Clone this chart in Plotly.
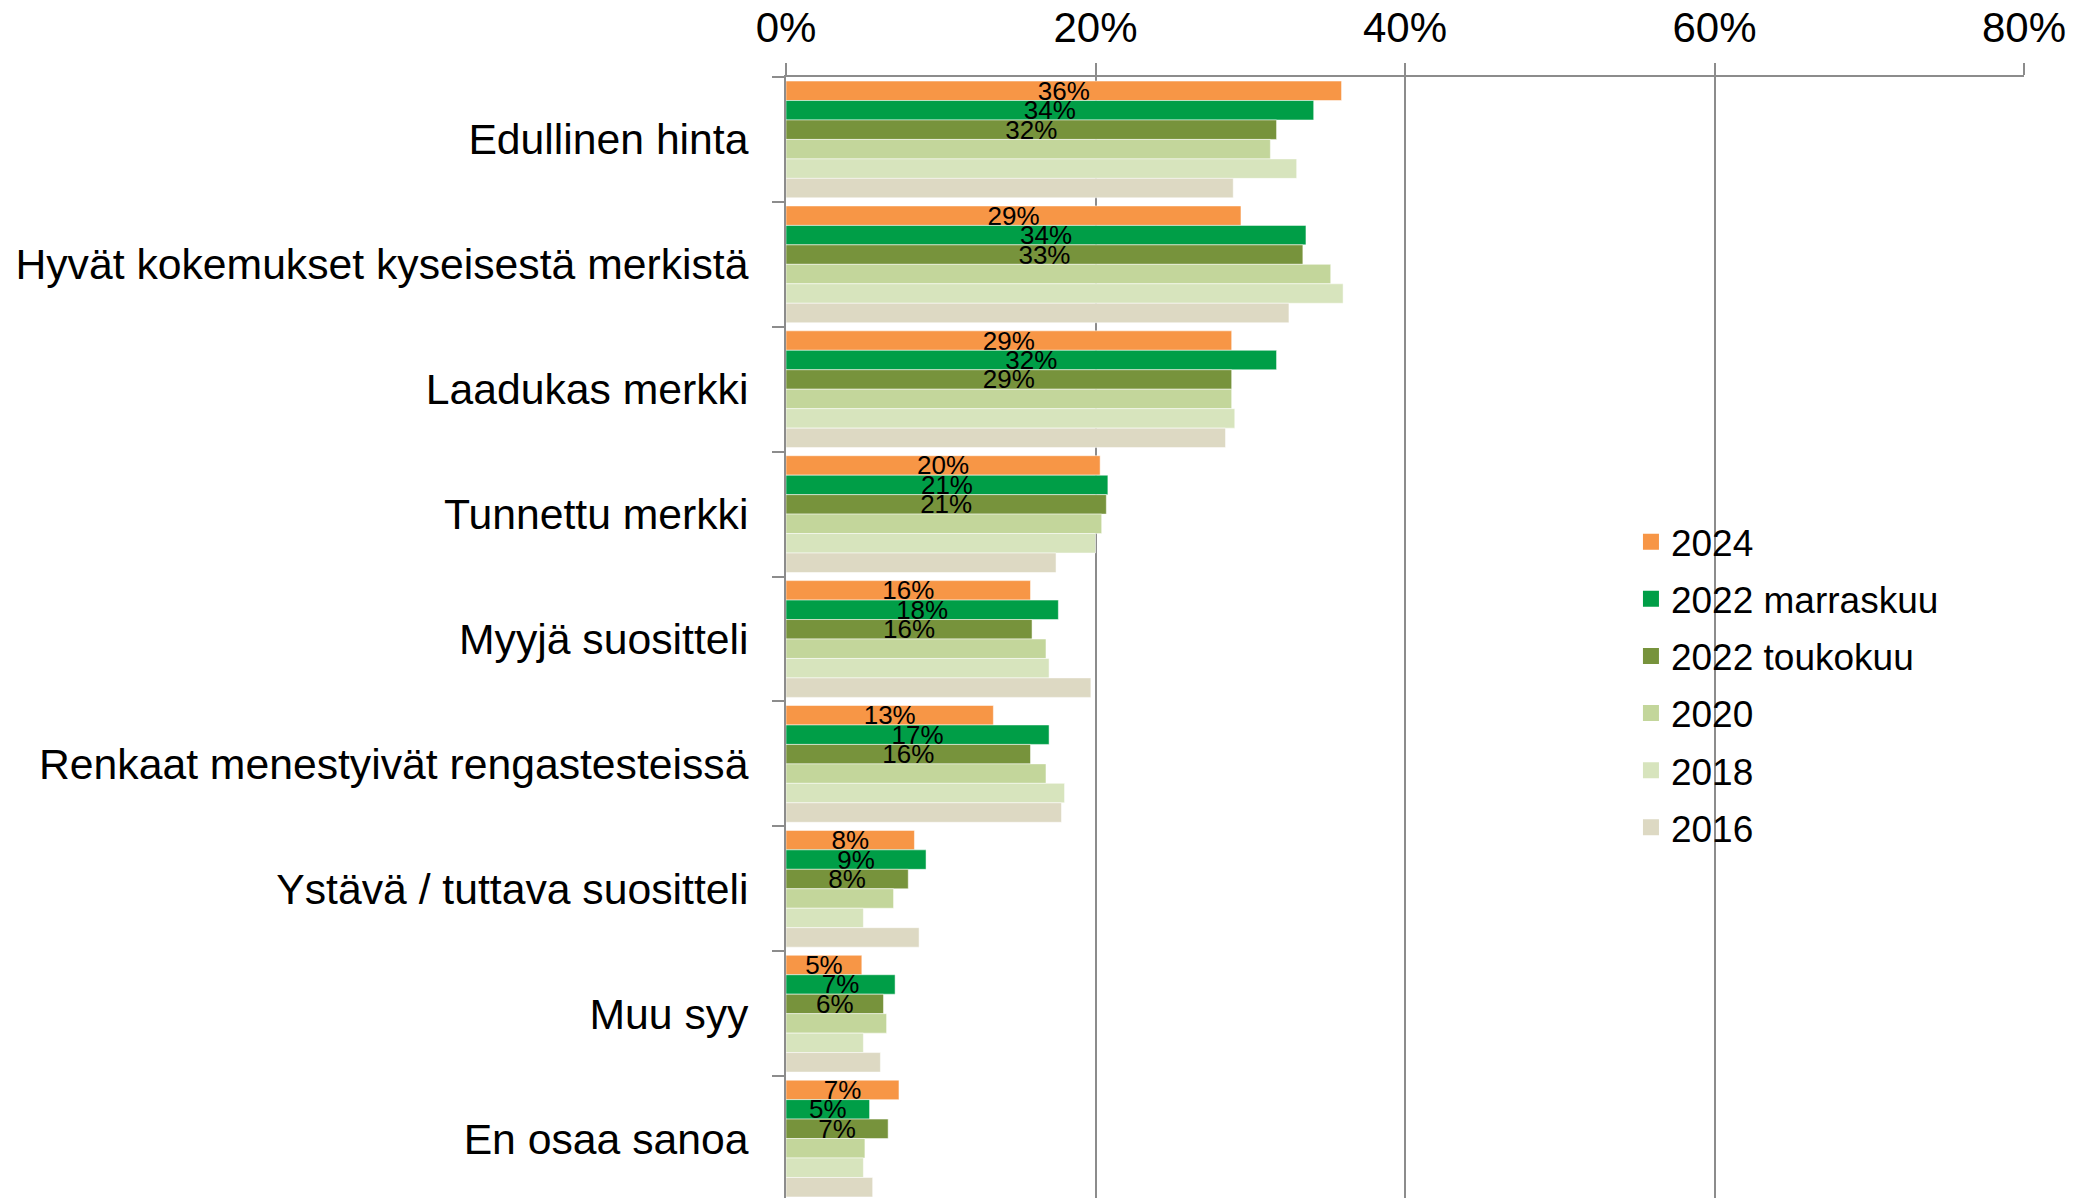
import plotly.graph_objects as go

categories = [
    "Edullinen hinta",
    "Hyvät kokemukset kyseisestä merkistä",
    "Laadukas merkki",
    "Tunnettu merkki",
    "Myyjä suositteli",
    "Renkaat menestyivät rengastesteissä",
    "Ystävä / tuttava suositteli",
    "Muu syy",
    "En osaa sanoa",
]

series_names = ["2024", "2022 marraskuu", "2022 toukokuu", "2020", "2018", "2016"]

v2024 = [35.9, 29.4, 28.8, 20.3, 15.8, 13.4, 8.3, 4.9, 7.3]
v2022_marras = [34.1, 33.6, 31.7, 20.8, 17.6, 17.0, 9.05, 7.05, 5.4]
v2022_touko = [31.7, 33.4, 28.8, 20.7, 15.9, 15.8, 7.9, 6.3, 6.6]
v2020 = [31.3, 35.2, 28.8, 20.4, 16.8, 16.8, 6.95, 6.5, 5.1]
v2018 = [33.0, 36.0, 29.0, 20.0, 17.0, 18.0, 5.0, 5.0, 5.0]
v2016 = [28.9, 32.5, 28.4, 17.45, 19.7, 17.8, 8.6, 6.1, 5.6]

values = [v2024, v2022_marras, v2022_touko, v2020, v2018, v2016]
colors = ["#F79646", "#009E47", "#77933C", "#C3D69B", "#D7E4BD", "#DDD9C3"]
labelled = [True, True, True, False, False, False]

tick_vals = [0, 20, 40, 60, 80]
tick_text = ["0%", "20%", "40%", "60%", "80%"]

FONT = "Arial, 'Liberation Sans', sans-serif"

# page body has an 8px default margin, margins compensate for it
W, H = 2095, 1198
ML, MR, MT, MB = 777.5, 78.7, 68.7, 5
PW = W - ML - MR
PH = H - MT - MB

fig = go.Figure()
for name, vals, col, lab in zip(series_names, values, colors, labelled):
    fig.add_trace(go.Bar(
        y=categories,
        x=vals,
        name=name,
        orientation="h",
        legendgroup=name,
        showlegend=False,
        marker=dict(color=col, line=dict(color="rgba(255,255,255,0.5)", width=1)),
        texttemplate="%{x:.0f}%" if lab else None,
        textposition="inside" if lab else "none",
        insidetextanchor="middle",
        constraintext="none",
        textangle=0,
        insidetextfont=dict(family=FONT, size=26, color="black"),
        hoverinfo="skip",
    ))

# legend entries (square swatches)
for name, col in zip(series_names, colors):
    fig.add_trace(go.Scatter(
        x=[None], y=[None],
        mode="markers",
        name=name,
        legendgroup=name,
        marker=dict(symbol="square", size=19, color=col, line=dict(width=0)),
        hoverinfo="skip",
    ))

legend_left_px = 1623
legend_top_px = 503
fig.update_layout(
    width=W,
    height=H,
    margin=dict(l=ML, r=MR, t=MT, b=MB, pad=0, autoexpand=False),
    paper_bgcolor="white",
    plot_bgcolor="white",
    barmode="group",
    bargap=0.065,
    bargroupgap=0,
    font=dict(family=FONT, color="black"),
    legend=dict(
        x=(legend_left_px - ML) / PW,
        y=1 - (legend_top_px - MT) / PH,
        xanchor="left",
        yanchor="top",
        traceorder="grouped",
        tracegroupgap=6,
        itemsizing="trace",
        font=dict(family=FONT, size=37, color="black"),
        bgcolor="rgba(0,0,0,0)",
    ),
    xaxis=dict(
        side="top",
        range=[0, 80],
        tickvals=tick_vals,
        ticktext=tick_text,
        showgrid=True,
        gridcolor="#8C8C8C",
        gridwidth=2,
        showline=True,
        linecolor="#8C8C8C",
        linewidth=2,
        ticks="outside",
        ticklen=12,
        tickwidth=2,
        tickcolor="#8C8C8C",
        ticklabelstandoff=4,
        tickfont=dict(family=FONT, size=42, color="black"),
        zeroline=False,
        automargin=False,
        fixedrange=True,
    ),
    yaxis=dict(
        autorange="reversed",
        showgrid=False,
        showline=True,
        linecolor="#8C8C8C",
        linewidth=2,
        ticks="outside",
        ticklen=12,
        tickwidth=2,
        tickcolor="#8C8C8C",
        tickson="boundaries",
        ticklabelstandoff=27,
        tickfont=dict(family=FONT, size=42.7, color="black"),
        automargin=False,
        fixedrange=True,
    ),
)

fig.write_html("out.html")
